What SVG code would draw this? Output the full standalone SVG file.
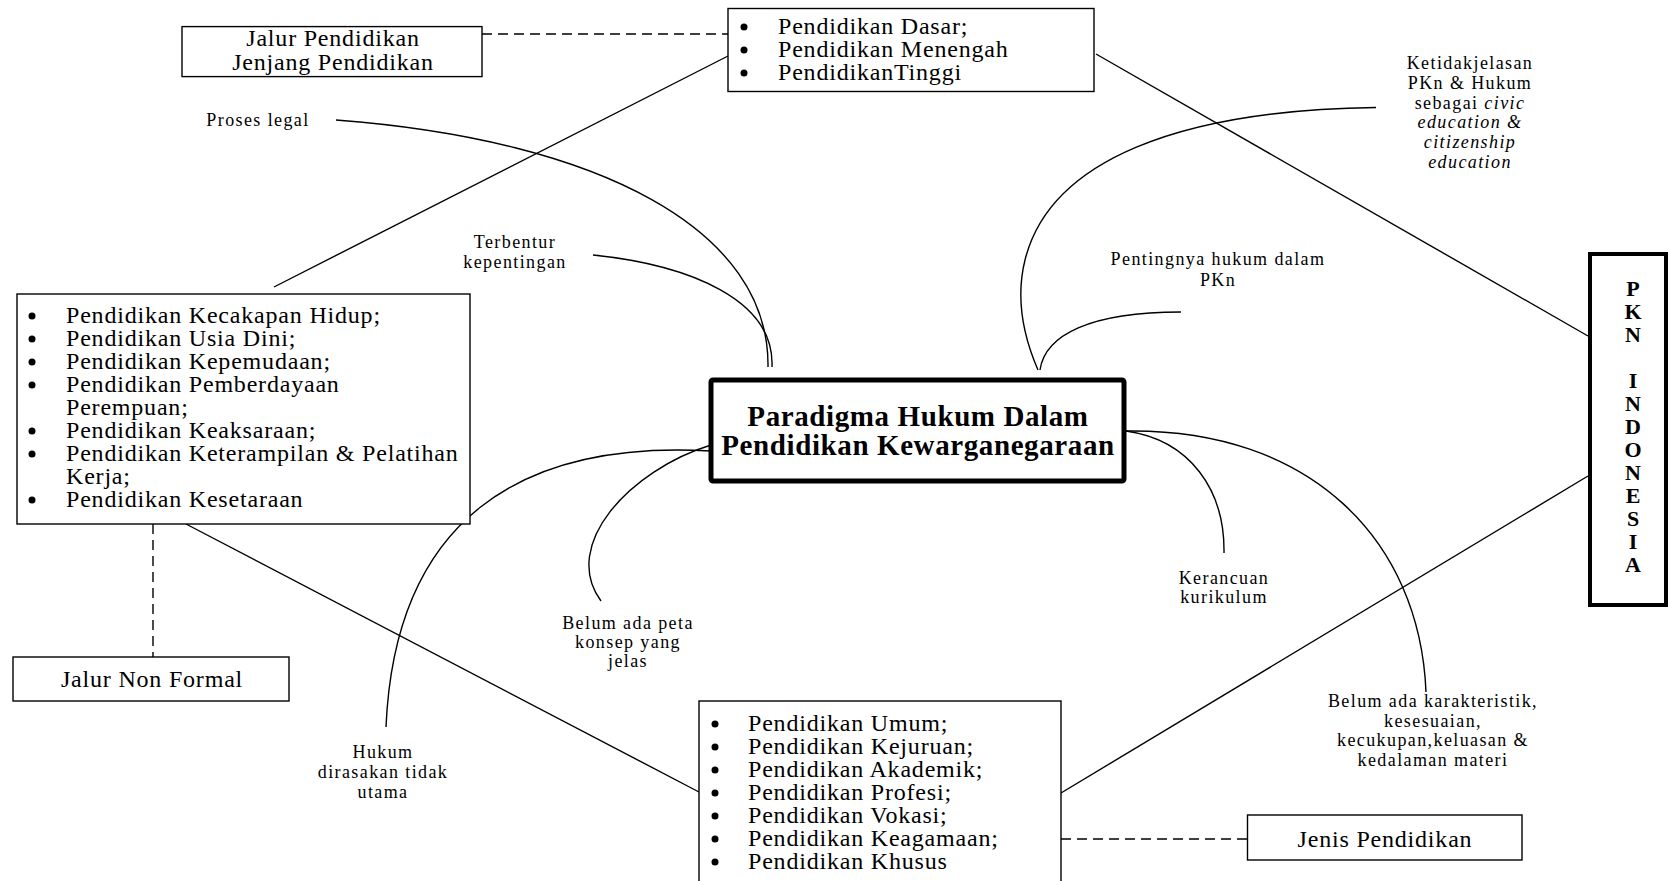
<svg xmlns="http://www.w3.org/2000/svg" width="1669" height="881" viewBox="0 0 1669 881">
<style>
.box{fill:#fff;stroke:#000;stroke-width:1.4}
.thick{fill:#fff;stroke:#000;stroke-width:5}
.ln{fill:none;stroke:#000;stroke-width:1.4}
.dash{fill:none;stroke:#000;stroke-width:1.4;stroke-dasharray:10 6}
.t{font-family:"Liberation Serif","Times New Roman",serif;font-size:24px;letter-spacing:0.8px;fill:#000}
.c{text-anchor:middle}
.lb{font-family:"Liberation Serif","Times New Roman",serif;font-size:18px;letter-spacing:1.4px;fill:#000;text-anchor:middle}
.ttl{font-family:"Liberation Serif","Times New Roman",serif;font-size:29px;font-weight:bold;letter-spacing:0.6px;fill:#000;text-anchor:middle}
.pk{font-family:"Liberation Serif","Times New Roman",serif;font-size:22px;font-weight:bold;fill:#000;text-anchor:middle}
.b{fill:#000}
</style>
<rect width="1669" height="881" fill="#fff"/>
<g id="connectors">
<line class="dash" x1="482" y1="34" x2="728" y2="34"/>
<line class="dash" x1="153" y1="524" x2="153" y2="657"/>
<line class="dash" x1="1061" y1="839" x2="1247.5" y2="839"/>
<line class="ln" x1="274" y1="287" x2="728" y2="56"/>
<line class="ln" x1="1096" y1="54" x2="1588" y2="336"/>
<line class="ln" x1="186" y1="524" x2="699" y2="792"/>
<line class="ln" x1="1061" y1="793" x2="1588" y2="476"/>
<path class="ln" d="M336 120 C600 140 770 230 768 367"/>
<path class="ln" d="M593 255 C690 265 775 300 772 367"/>
<path class="ln" d="M1376 107.5 C1180 110 1050 160 1025 260 C1015 300 1025 340 1038 370"/>
<path class="ln" d="M1181 312 C1090 312 1045 335 1040 370"/>
<path class="ln" d="M1126 431 C1190 440 1225 490 1224 553"/>
<path class="ln" d="M1126 431 C1310 428 1420 540 1426 692"/>
<path class="ln" d="M711 445 C630 470 560 545 601 601"/>
<path class="ln" d="M711 451 C520 440 395 520 386 727"/>
</g>
<g id="jalur-pendidikan">
<rect class="box" x="182" y="26.6" width="300" height="50"/>
<text class="t c" x="333" y="45.5">Jalur Pendidikan</text>
<text class="t c" x="333" y="69.5">Jenjang Pendidikan</text>
</g>
<g id="jenjang">
<rect class="box" x="728" y="8.5" width="366" height="83"/>
<circle class="b" cx="744" cy="27" r="3.5"/><text class="t" x="778" y="34">Pendidikan Dasar;</text>
<circle class="b" cx="744" cy="50" r="3.5"/><text class="t" x="778" y="57">Pendidikan Menengah</text>
<circle class="b" cx="744" cy="73" r="3.5"/><text class="t" x="778" y="80">PendidikanTinggi</text>
</g>
<g id="nonformal-list">
<rect class="box" x="17" y="294" width="453" height="230"/>
<circle class="b" cx="32" cy="316" r="3.5"/><text class="t" x="66" y="323">Pendidikan Kecakapan Hidup;</text>
<circle class="b" cx="32" cy="339" r="3.5"/><text class="t" x="66" y="346">Pendidikan Usia Dini;</text>
<circle class="b" cx="32" cy="362" r="3.5"/><text class="t" x="66" y="369">Pendidikan Kepemudaan;</text>
<circle class="b" cx="32" cy="385" r="3.5"/><text class="t" x="66" y="392">Pendidikan Pemberdayaan</text>
<text class="t" x="66" y="415">Perempuan;</text>
<circle class="b" cx="32" cy="431" r="3.5"/><text class="t" x="66" y="438">Pendidikan Keaksaraan;</text>
<circle class="b" cx="32" cy="454" r="3.5"/><text class="t" x="66" y="461">Pendidikan Keterampilan &amp; Pelatihan</text>
<text class="t" x="66" y="484">Kerja;</text>
<circle class="b" cx="32" cy="500" r="3.5"/><text class="t" x="66" y="507">Pendidikan Kesetaraan</text>
</g>
<g id="jalur-non-formal">
<rect class="box" x="13" y="657" width="276" height="44"/>
<text class="t c" x="152" y="687">Jalur Non Formal</text>
</g>
<g id="center">
<rect class="thick" x="711" y="380" width="413" height="101" rx="2"/>
<text class="ttl" x="918" y="426">Paradigma Hukum Dalam</text>
<text class="ttl" x="918" y="455">Pendidikan Kewarganegaraan</text>
</g>
<g id="pkn-indonesia">
<rect x="1590" y="254" width="76" height="351" fill="#fff" stroke="#000" stroke-width="4"/>
<text class="pk" x="1633" y="296">P</text>
<text class="pk" x="1633" y="319">K</text>
<text class="pk" x="1633" y="342">N</text>
<text class="pk" x="1633" y="388">I</text>
<text class="pk" x="1633" y="411">N</text>
<text class="pk" x="1633" y="434">D</text>
<text class="pk" x="1633" y="457">O</text>
<text class="pk" x="1633" y="480">N</text>
<text class="pk" x="1633" y="503">E</text>
<text class="pk" x="1633" y="526">S</text>
<text class="pk" x="1633" y="549">I</text>
<text class="pk" x="1633" y="572">A</text>
</g>
<g id="jenis-list">
<rect class="box" x="699" y="701" width="362" height="200"/>
<circle class="b" cx="715" cy="724" r="3.5"/><text class="t" x="748" y="731">Pendidikan Umum;</text>
<circle class="b" cx="715" cy="747" r="3.5"/><text class="t" x="748" y="754">Pendidikan Kejuruan;</text>
<circle class="b" cx="715" cy="770" r="3.5"/><text class="t" x="748" y="777">Pendidikan Akademik;</text>
<circle class="b" cx="715" cy="793" r="3.5"/><text class="t" x="748" y="800">Pendidikan Profesi;</text>
<circle class="b" cx="715" cy="816" r="3.5"/><text class="t" x="748" y="823">Pendidikan Vokasi;</text>
<circle class="b" cx="715" cy="839" r="3.5"/><text class="t" x="748" y="846">Pendidikan Keagamaan;</text>
<circle class="b" cx="715" cy="862" r="3.5"/><text class="t" x="748" y="869">Pendidikan Khusus</text>
</g>
<g id="jenis-pendidikan">
<rect class="box" x="1247.5" y="815" width="274.5" height="45"/>
<text class="t c" x="1385" y="847">Jenis Pendidikan</text>
</g>
<g id="labels">
<text class="lb" x="258" y="126">Proses legal</text>
<text class="lb" x="515" y="248">Terbentur</text>
<text class="lb" x="515" y="268">kepentingan</text>
<text class="lb" x="1470" y="69">Ketidakjelasan</text>
<text class="lb" x="1470" y="89">PKn &amp; Hukum</text>
<text class="lb" x="1470" y="109">sebagai <tspan font-style="italic">civic</tspan></text>
<text class="lb" x="1470" y="128" font-style="italic">education &amp;</text>
<text class="lb" x="1470" y="148" font-style="italic">citizenship</text>
<text class="lb" x="1470" y="168" font-style="italic">education</text>
<text class="lb" x="1218" y="265">Pentingnya hukum dalam</text>
<text class="lb" x="1218" y="286">PKn</text>
<text class="lb" x="1224" y="584">Kerancuan</text>
<text class="lb" x="1224" y="603">kurikulum</text>
<text class="lb" x="628" y="629">Belum ada peta</text>
<text class="lb" x="628" y="648">konsep yang</text>
<text class="lb" x="628" y="667">jelas</text>
<text class="lb" x="1433" y="707">Belum ada karakteristik,</text>
<text class="lb" x="1433" y="727">kesesuaian,</text>
<text class="lb" x="1433" y="746">kecukupan,keluasan &amp;</text>
<text class="lb" x="1433" y="766">kedalaman materi</text>
<text class="lb" x="383" y="758">Hukum</text>
<text class="lb" x="383" y="778">dirasakan tidak</text>
<text class="lb" x="383" y="798">utama</text>
</g>
</svg>
